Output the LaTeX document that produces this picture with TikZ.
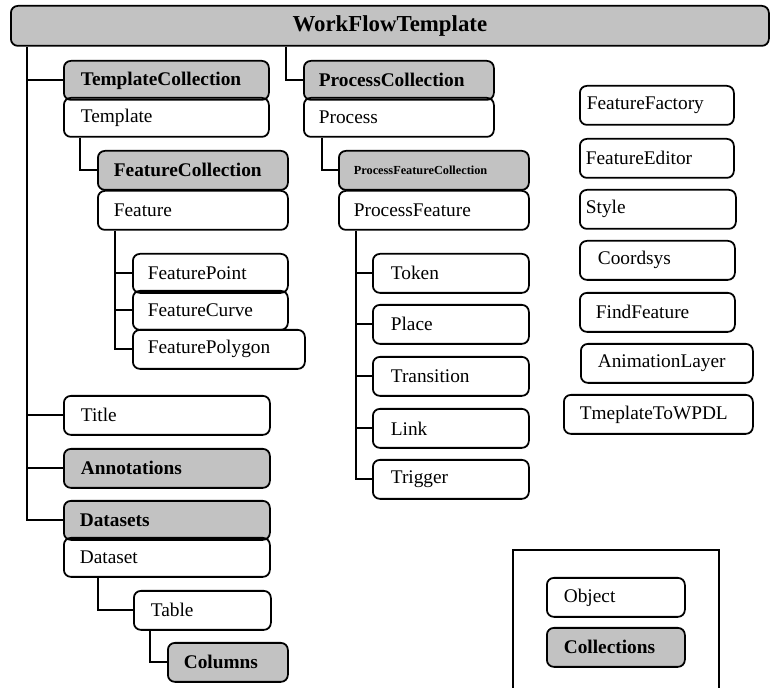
\documentclass[tikz,border=0pt]{standalone}
\usepackage{fontspec}
\setmainfont{Liberation Serif}
\usepackage{tikz}
\definecolor{collgray}{gray}{0.76}
\newcommand\objfont{\fontsize{11}{13}\selectfont}
\newcommand\collfont{\fontsize{11}{13}\selectfont\bfseries}
\tikzset{
	obj/.style 2 args={draw,line width=1pt,rounded corners=4pt,anchor=north west,minimum height=39*0.02cm,inner ysep=0pt,inner xsep=#2*0.02cm,text width=(#1-2*#2)*0.02cm,align=left,font=\objfont},
	coll/.style 2 args={obj={#1}{#2},fill=collgray,font=\collfont}
}
\begin{document}
\begin{tikzpicture}[x=0.02cm,y=-0.02cm,line width=1pt]
	\useasboundingbox (0,0) rectangle (775,688);

	\node [coll={758}{20},align=center,minimum height=40*0.02cm,font=\fontsize{13}{15}\selectfont\bfseries] (wft) at (10,5) {WorkFlowTemplate};

	\node [coll={205}{17}] (tcoll) at (63,60) {TemplateCollection};
	\node [obj={205}{17}] (tmpl) at (63,97) {Template};
	\node [coll={190}{16}] (fcoll) at (97,150) {FeatureCollection};
	\node [obj={190}{16}] (feat) at (97,190) {Feature};
	\node [obj={155}{15}] (fpoint) at (132,253) {FeaturePoint};
	\node [obj={155}{15}] (fcurve) at (132,290) {FeatureCurve};
	\node [obj={172}{15}] (fpoly) at (132,329) {FeaturePolygon};
	\node [obj={206}{17}] (title) at (63,395) {Title};
	\node [coll={206}{17}] (annot) at (63,448) {Annotations};
	\node [coll={206}{16}] (dsets) at (63,500) {Datasets};
	\node [obj={206}{16}] (dset) at (63,537) {Dataset};
	\node [obj={137}{17}] (table) at (133,590) {Table};
	\node [coll={120}{16}] (cols) at (167,642) {Columns};

	\node [coll={190}{15}] (pcoll) at (303,60) {ProcessCollection};
	\node [obj={190}{15}] (proc) at (303,97) {Process};
	\node [coll={190}{15},font=\fontsize{7}{8}\selectfont\bfseries] (pfcoll) at (338,150) {ProcessFeatureCollection};
	\node [obj={190}{15}] (pfeat) at (338,190) {ProcessFeature};
	\node [obj={156}{18}] (token) at (372,253) {Token};
	\node [obj={156}{18}] (place) at (372,304) {Place};
	\node [obj={156}{18}] (trans) at (372,356) {Transition};
	\node [obj={156}{18}] (link) at (372,408) {Link};
	\node [obj={156}{18}] (trig) at (372,459) {Trigger};

	\node [obj={154}{7}] (ffact) at (579,85) {FeatureFactory};
	\node [obj={154}{6}] (fedit) at (579,138) {FeatureEditor};
	\node [obj={156}{6}] (sty) at (579,189) {Style};
	\node [obj={155}{18}] (coords) at (579,240) {Coordsys};
	\node [obj={155}{16}] (find) at (579,292) {FindFeature};
	\node [obj={172}{17}] (anim) at (580,343) {AnimationLayer};
	\node [obj={189}{16}] (towpdl) at (563,394) {TmeplateToWPDL};

	\draw [line width=0.6pt] (513,688) |- (719,550) -- (719,688);
	\node [obj={138}{17}] (obj) at (546,577) {Object};
	\node [coll={138}{17}] (colls) at (546,627) {Collections};

	\path (wft.south west) ++(17,0) coordinate (trunk);
	\draw (trunk) |- (dsets.west);
	\foreach \n in {tcoll,title,annot}
		\draw (\n.west) -- (\n.west -| trunk);
	\draw (tmpl.south west) ++(17,0) |- (fcoll.west);
	\draw (feat.south west) ++(18,0) coordinate (fbar) |- (fpoly.west);
	\foreach \n in {fpoint,fcurve}
		\draw (\n.west) -- (\n.west -| fbar);
	\draw (dset.south west) ++(35,0) |- (table.west);
	\draw (table.south west) ++(17,0) |- (cols.west);

	\draw (wft.south -| pcoll.west) ++(-17,0) |- (pcoll.west);
	\draw (proc.south west) ++(19,0) |- (pfcoll.west);
	\draw (pfeat.south west) ++(18,0) coordinate (pbar) |- (trig.west);
	\foreach \n in {token,place,trans,link}
		\draw (\n.west) -- (\n.west -| pbar);
\end{tikzpicture}
\end{document}
